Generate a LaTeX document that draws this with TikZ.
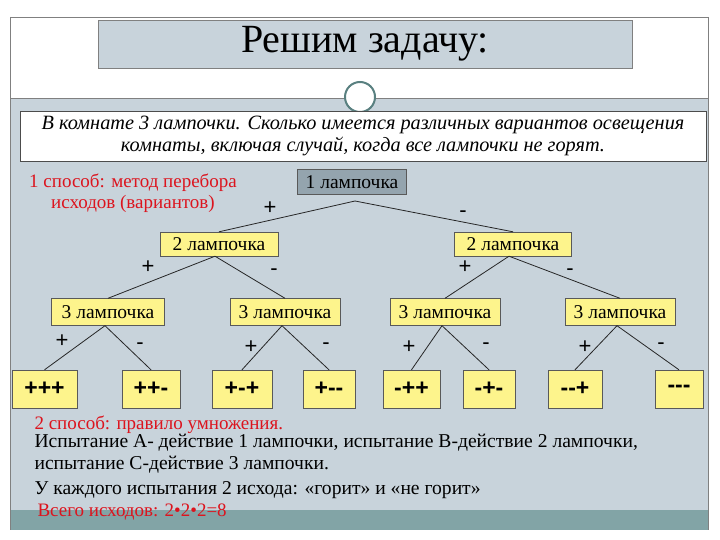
\documentclass[tikz,border=0pt]{standalone}
\usepackage{fontspec}
\setmainfont{Liberation Serif}
\setsansfont{Liberation Sans}
\definecolor{panel}{RGB}{200,211,219}
\definecolor{bar}{RGB}{130,164,166}
\definecolor{rootc}{RGB}{148,164,174}
\definecolor{yel}{RGB}{253,244,140}
\definecolor{redt}{RGB}{220,20,30}
\begin{document}
\begin{tikzpicture}[x=1pt,y=-1pt,
  ybox/.style={draw=gray!70!black,fill=yel,inner sep=0pt,font=\fontsize{19.5}{19.5}\selectfont},
  leaf/.style={draw=gray!70!black,fill=yel,inner sep=0pt,font=\sffamily\bfseries\fontsize{23}{23}\selectfont},
  sg/.style={font=\sffamily\fontsize{22}{22}\selectfont},
  ln/.style={thick,black!85}]
\useasboundingbox (0,0) rectangle (720,540);
\fill[white] (0,0) rectangle (720,540);
\fill[panel] (10,98) rectangle (708,510);
\fill[bar] (10,510) rectangle (708,530);
\draw[gray] (10,17) -- (708,17);
\draw[gray] (10,17) -- (10,530); \draw[gray] (708,17) -- (708,530);
\draw[gray] (10,98) -- (708,98);
\node[draw=gray,fill=panel,minimum width=534,minimum height=48,inner sep=0pt] (title) at (365,44) {\fontsize{40}{40}\selectfont Решим задачу:};
\node[draw=gray!70!teal,fill=white,line width=2pt,circle,minimum size=30] (orn) at (360,97) {};
\node[draw=gray!60!black,fill=white,minimum width=686,minimum height=50,inner sep=0pt,align=center,font=\itshape\fontsize{20.3}{22}\selectfont] (task) at (363,136) {В комнате 3 лампочки. Сколько имеется различных вариантов освещения\\комнаты, включая случай, когда все лампочки не горят.};
\node[text=redt,align=center,font=\fontsize{19}{21}\selectfont] (m1) at (133,193) {1 способ: метод перебора\\исходов (вариантов)};
\node[draw=gray!70!black,fill=rootc,minimum width=109,minimum height=25,inner sep=0pt,font=\fontsize{19.5}{19.5}\selectfont] (r) at (352,182) {1 лампочка};
\coordinate (rb) at (355,201);
\node[ybox,minimum width=118,minimum height=24] (a) at (219,244) {2 лампочка};
\node[ybox,minimum width=117,minimum height=24] (b) at (513,244) {2 лампочка};
\draw[ln] (a.north) -- (rb) -- (b.north);
\node[sg] at (270,208) {+}; \node[sg] at (463,214) {-};
\foreach \n/\x/\w in {c1/108/113,c2/285/110,c3/445/110,c4/620/110}
  \node[ybox,minimum width=\w,minimum height=27] (\n) at (\x,312) {3 лампочка};
\draw[ln] (c1.north) -- ([xshift=-4]a.south) -- (c2.north);
\draw[ln] (c3.north) -- ([xshift=-4]b.south) -- (c4.north);
\node[sg] at (148,267) {+}; \node[sg] at (274,272) {-};
\node[sg] at (465,267) {+}; \node[sg] at (570,272) {-};
\foreach \n/\x/\w/\t in {l1/44.5/65/+++,l2/151/58/++-,l3/242/60/+-+,l4/329/52/+-{}-,l5/411.5/57/-++,l6/489/52/-+-,l7/575/54/-{}-+,l8/679/48/-{}-{}-}
  \node[leaf,minimum width=\w,minimum height=38] (\n) at (\x,389) {\t};
\draw[ln] (l1.north) -- ([xshift=-3]c1.south) -- (l2.north);
\draw[ln] (l3.north) -- ([xshift=-3]c2.south) -- (l4.north);
\draw[ln] (l5.north) -- ([xshift=-3]c3.south) -- (l6.north);
\draw[ln] (l7.north) -- ([xshift=-3]c4.south) -- (l8.north);
\node[sg] at (62,341) {+}; \node[sg] at (140,346) {-};
\node[sg] at (251,347) {+}; \node[sg] at (326,346) {-};
\node[sg] at (409,347) {+}; \node[sg] at (486,346) {-};
\node[sg] at (585,347) {+}; \node[sg] at (661,346) {-};
\node[anchor=west,text=redt,font=\fontsize{19}{19}\selectfont] (t1) at (31,425) {2 способ: правило умножения.};
\node[anchor=west,font=\fontsize{19.6}{19}\selectfont] (t2) at (31,443) {Испытание А- действие 1 лампочки, испытание В-действие 2 лампочки,};
\node[anchor=west,font=\fontsize{19.6}{19}\selectfont] (t3) at (31,465) {испытание С-действие 3 лампочки.};
\node[anchor=west,font=\fontsize{19.6}{19}\selectfont] (t4) at (31,490) {У каждого испытания 2 исхода: «горит» и «не горит»};
\node[anchor=west,text=redt,font=\fontsize{19}{19}\selectfont] (t5) at (34,512) {Всего исходов: 2•2•2=8};
\end{tikzpicture}
\end{document}
